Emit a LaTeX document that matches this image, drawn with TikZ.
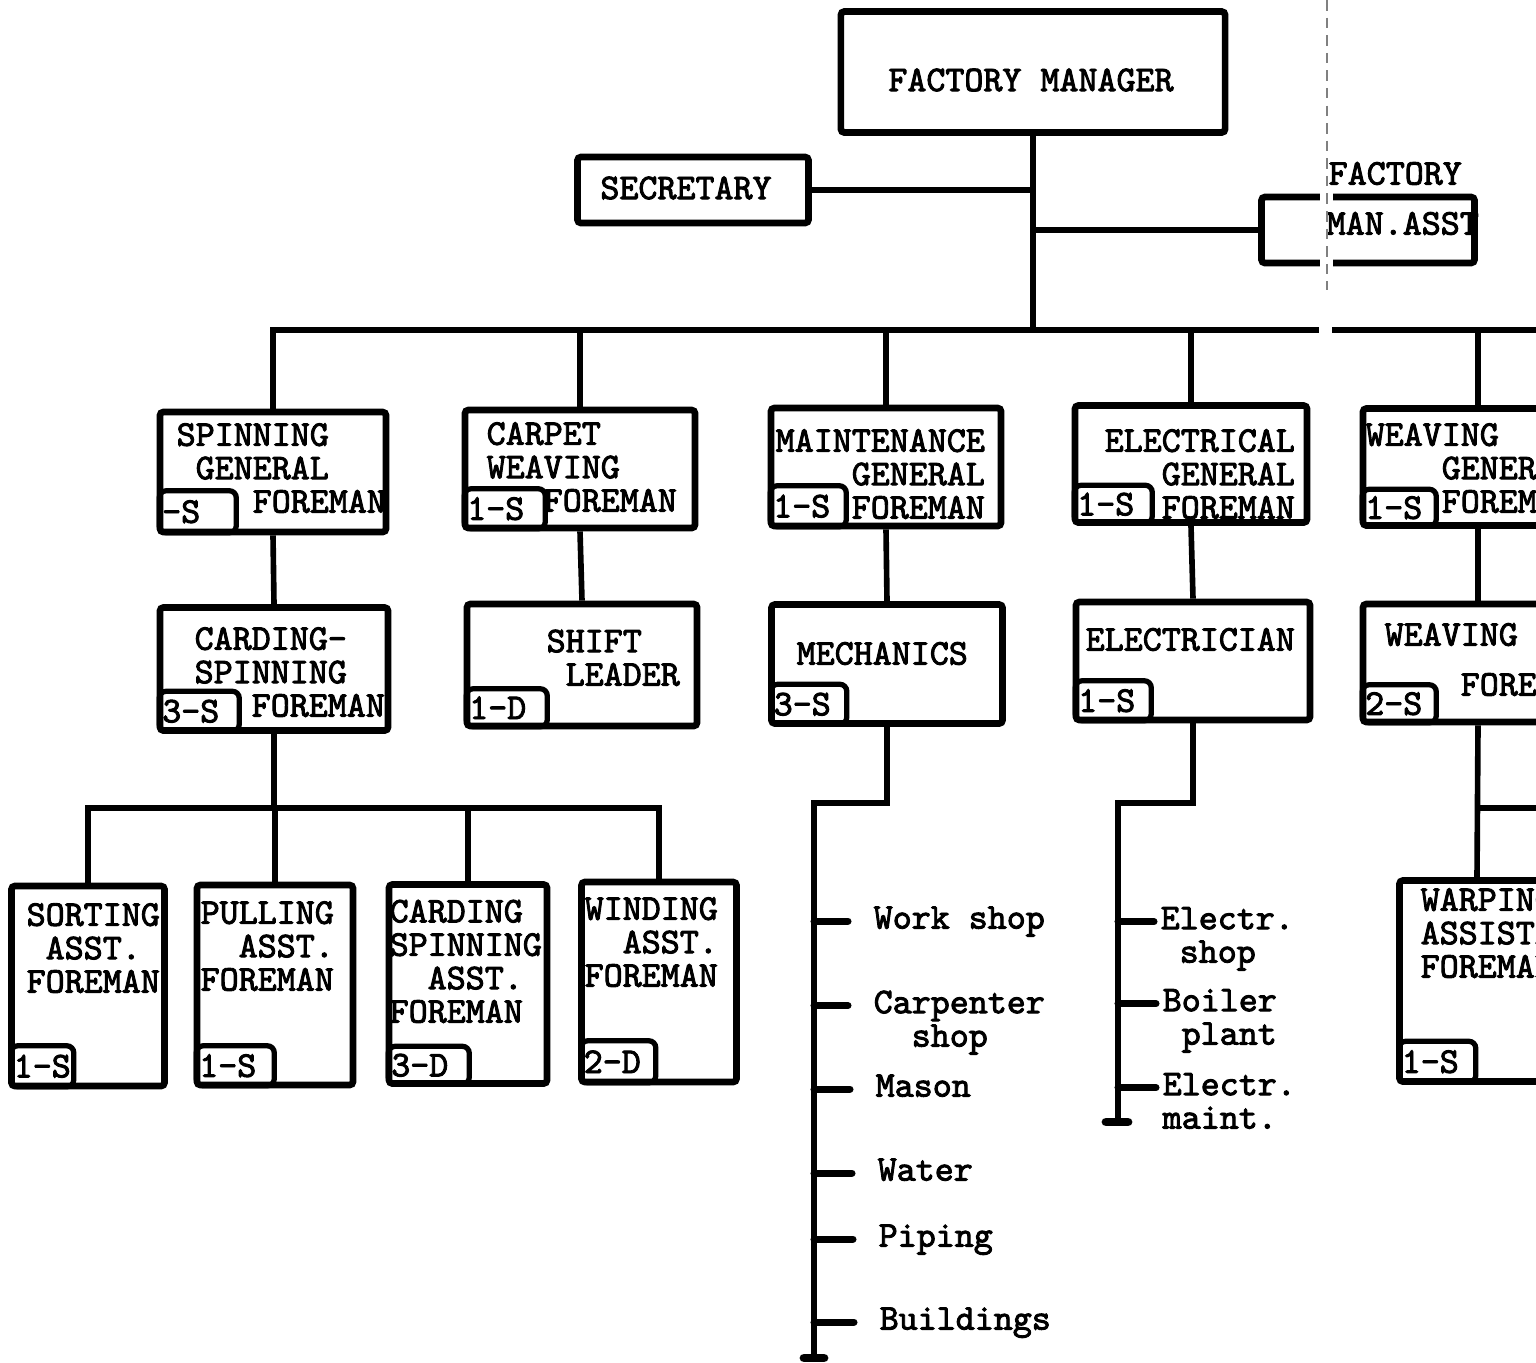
\documentclass[tikz,border=0pt]{standalone}
\usepackage{fontspec}
\setmonofont{lmmono10-regular.otf}[FakeBold=2.5]
\usetikzlibrary{positioning}

\newcommand{\typ}{\ttfamily\fontsize{10.3}{9.5}\selectfont}
\newcommand{\sk}[1]{\hphantom{#1}}

\tikzset{
  unit/.style={draw, line width=1.9pt, rounded corners=1pt, inner sep=0pt},
  tab/.style={draw, line width=1.5pt, rounded corners=2pt, anchor=south west,
    inner xsep=0.3mm, inner ysep=0pt, align=left, font=\typ},
  txt/.style={anchor=mid west, inner sep=0pt, align=left, font=\typ},
  wire/.style={line width=1.6pt},
}

\begin{document}
\begin{tikzpicture}[x=0.01cm, y=-0.01cm]
    \useasboundingbox (0,0) rectangle (1536,1362);
    \clip (0,0) rectangle (1536,1362);

    % top of the chart (text nodes sit on their last line)
    \node[unit, minimum width=38.4mm, minimum height=12.1mm] (mgr) at (1033,72) {};
    \node[txt, anchor=center] (mgr-t) at (1031,80) {FACTORY MANAGER};
    \node[unit, minimum width=23.1mm, minimum height=6.6mm] (sec) at (693,190) {};
    \node[txt, anchor=center] (sec-t) at (686,188) {SECRETARY};
    \node[unit, minimum width=21.3mm, minimum height=6.6mm] (asst) at (1368,230) {};
    \fill[white] (1320,185) rectangle (1333,208);
    \fill[white] (1320,252) rectangle (1333,275);
    \node[txt] (asst-t1) at (1328,177) {FACTORY};
    \node[txt] (asst-t2) at (1326,227) {MAN.ASST};
    \draw[gray, densely dashed, line width=0.4pt] (1327,0) -- (1327,290);

    % general foremen
    \node[unit, minimum width=22.6mm, minimum height=12mm] (spin) at (273,472) {};
    \node[tab, text width=7.1mm, minimum height=4.2mm] (spin-n) at (spin.south west) {-S};
    \node[txt] (spin-t) at (176,505) {SPINNING\\\sk{M}GENERAL\\\sk{MMMM}FOREMAN};

    \node[unit, minimum width=23mm, minimum height=11.8mm] (carpet) at (580,469) {};
    \node[tab, text width=7.5mm, minimum height=4mm] (carpet-n) at (carpet.south west) {1-S};
    \node[txt] (carpet-t) at (486,504) {CARPET\\WEAVING\\\sk{MMM}FOREMAN};

    \node[unit, minimum width=23mm, minimum height=11.8mm] (maint) at (886,467) {};
    \node[tab, text width=7mm, minimum height=4.1mm] (maint-n) at (maint.south west) {1-S};
    \node[txt] (maint-t) at (775,511) {MAINTENANCE\\\sk{MMMM}GENERAL\\\sk{MMMM}FOREMAN};

    \node[unit, minimum width=23.2mm, minimum height=11.7mm] (elec) at (1191,464) {};
    \node[tab, text width=7.2mm, minimum height=3.8mm] (elec-n) at (elec.south west) {1-S};
    \node[txt] (elec-t) at (1104,511) {ELECTRICAL\\\sk{MMM}GENERAL\\\sk{MMM}FOREMAN};

    \node[unit, minimum width=23mm, minimum height=11.7mm] (weaveg) at (1478,467) {};
    \node[tab, text width=6.8mm, minimum height=3.7mm] (weaveg-n) at (weaveg.south west) {1-S};
    \node[txt] (weaveg-t) at (1365,505) {WEAVING\\\sk{MMMM}GENERAL\\\sk{MMMM}FOREMAN};

    % second row
    \node[unit, minimum width=22.8mm, minimum height=12.3mm] (cardspin) at (274,669) {};
    \node[tab, text width=7.4mm, minimum height=4mm] (cardspin-n) at (cardspin.south west) {3-S};
    \node[txt] (cardspin-t) at (194,709) {CARDING-\\SPINNING\\\sk{MMM}FOREMAN};

    \node[unit, minimum width=23mm, minimum height=12.2mm] (shift) at (582,665) {};
    \node[tab, text width=7.5mm, minimum height=3.8mm] (shift-n) at (shift.south west) {1-D};
    \node[txt] (shift-t) at (546,678) {SHIFT\\\sk{M}LEADER};

    \node[unit, minimum width=23.1mm, minimum height=11.9mm] (mech) at (887,664) {};
    \node[tab, text width=7mm, minimum height=4mm] (mech-n) at (mech.south west) {3-S};
    \node[txt] (mech-t) at (796,657) {MECHANICS};

    \node[unit, minimum width=23.4mm, minimum height=11.8mm] (electrician) at (1193,661) {};
    \node[tab, text width=7mm, minimum height=4mm] (electrician-n) at (electrician.south west) {1-S};
    \node[txt] (electrician-t) at (1085,643) {ELECTRICIAN};

    \node[unit, minimum width=23mm, minimum height=11.8mm] (weavef) at (1478,663) {};
    \node[tab, text width=6.8mm, minimum height=3.8mm] (weavef-n) at (weavef.south west) {2-S};
    \node[txt] (weavef-t) at (1384,688) {WEAVING\\[4.7pt]\sk{MMMM}FOREMAN};

    % assistant foremen
    \node[unit, minimum width=15.3mm, minimum height=20mm] (sort) at (88,986) {};
    \node[tab, text width=5.7mm, minimum height=4.1mm] (sort-n) at (sort.south west) {1-S};
    \node[txt] (sort-t) at (26,985) {SORTING\\\sk{M}ASST.\\FOREMAN};

    \node[unit, minimum width=15.6mm, minimum height=20mm] (pull) at (275,985) {};
    \node[tab, text width=7.2mm, minimum height=4mm] (pull-n) at (pull.south west) {1-S};
    \node[txt] (pull-t) at (200,983) {PULLING\\\sk{MM}ASST.\\FOREMAN};

    \node[unit, minimum width=15.8mm, minimum height=19.9mm] (cardasst) at (468,984) {};
    \node[tab, text width=7.5mm, minimum height=3.8mm] (cardasst-n) at (cardasst.south west) {3-D};
    \node[txt] (cardasst-t) at (389,1015) {CARDING\\SPINNING\\\sk{MM}ASST.\\FOREMAN};

    \node[unit, minimum width=15.5mm, minimum height=20mm] (wind) at (659,982) {};
    \node[tab, text width=6.9mm, minimum height=4.2mm] (wind-n) at (wind.south west) {2-D};
    \node[txt] (wind-t) at (584,979) {WINDING\\\sk{MM}ASST.\\FOREMAN};

    \node[unit, minimum width=15.5mm, minimum height=20.1mm] (warp) at (1477,981) {};
    \node[tab, text width=7.1mm, minimum height=4.1mm] (warp-n) at (warp.south west) {1-S};
    \node[txt] (warp-t) at (1420,970) {WARPING\\ASSISTANT\\FOREMAN};

    % sections
    \node[txt] (wshop) at (873,921) {Work~shop};
    \node[txt] (carp) at (873,1039) {Carpenter\\\sk{MM}shop};
    \node[txt] (mason) at (875,1089) {Mason};
    \node[txt] (water) at (877,1173) {Water};
    \node[txt] (piping) at (878,1239) {Piping};
    \node[txt] (bldg) at (879,1322) {Buildings};
    \node[txt] (eshop) at (1160,955) {Electr.\\\sk{M}shop};
    \node[txt] (boiler) at (1162,1037) {Boiler\\\sk{M}plant};
    \node[txt] (emaint) at (1162,1121) {Electr.\\maint.};

    % connectors
    \coordinate (bus) at (1560,330);
    \draw[wire] (spin.north) |- (bus);
    \fill[white] (1319,320) rectangle (1332,340);
    \foreach \n in {carpet,maint,elec,weaveg}
        \draw[wire] (\n.north) -- (\n.north |- bus);
    \draw[wire] (mgr.south) -- (mgr.south |- bus);
    \draw[wire] (sec.east) -- (sec.east -| mgr.south);
    \draw[wire] (asst.west) -- (asst.west -| mgr.south);

    \draw[wire] (spin.south) -- (cardspin.north);
    \draw[wire] (carpet.south) -- (shift.north);
    \draw[wire] (maint.south) -- (mech.north);
    \draw[wire] (elec.south) -- (electrician.north);
    \draw[wire] (weaveg.south) -- (weavef.north);

    \coordinate (cbus) at (277,808);
    \draw[wire] (cardspin.south) -- (cardspin.south |- cbus);
    \draw[wire] (sort.north) |- (wind.north |- cbus) -- (wind.north);
    \foreach \n in {pull,cardasst}
        \draw[wire] (\n.north) -- (\n.north |- cbus);

    \coordinate (wbus) at (1560,808);
    \draw[wire] (weavef.south) -- (warp.north);
    \draw[wire] (weavef.south |- wbus) -- (wbus);

    \coordinate (mtop) at (814,803);
    \coordinate (mfoot) at (814,1358);
    \draw[wire] (mech.south) |- (mtop) -- (mfoot);
    \draw[wire, line width=2.5pt, line cap=round] ([xshift=-1mm]mfoot) -- ([xshift=1mm]mfoot);
    \foreach \n in {wshop,mason,water,piping,bldg}
        \draw[wire, line width=2pt, line cap=round] (mtop |- \n.mid west) -- ([xshift=-2.5mm]\n.mid west);
    \draw[wire, line width=2pt, line cap=round] ([yshift=9.5pt]mtop |- carp.mid west) -- ([xshift=-2.5mm, yshift=9.5pt]carp.mid west);

    \coordinate (etop) at (1118,803);
    \coordinate (efoot) at (1118,1122);
    \draw[wire] (electrician.south) |- (etop) -- (efoot);
    \draw[wire, line width=2.5pt, line cap=round] ([xshift=-1.2mm]efoot) -- ([xshift=1mm]efoot);
    \foreach \n in {eshop,boiler,emaint}
        \draw[wire, line width=2pt, line cap=round] ([yshift=9.5pt]etop |- \n.mid west) -- ([xshift=-0.6mm, yshift=9.5pt]\n.mid west);
\end{tikzpicture}
\end{document}
